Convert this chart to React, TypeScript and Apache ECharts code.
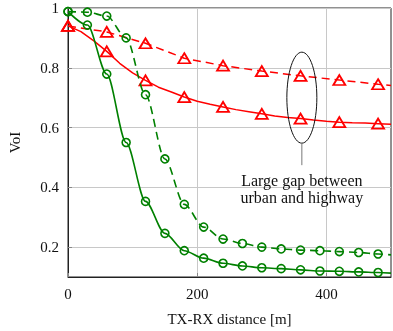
import React, { useEffect, useRef } from "react";
import * as echarts from "echarts";

// ---- data ----
const greenX = [0, 30, 60, 90, 120, 150, 180, 210, 240, 270, 300, 330, 360, 390, 420, 450, 480];
const greenSolid = [0.988, 0.943, 0.779, 0.55, 0.353, 0.246, 0.188, 0.163, 0.146, 0.137, 0.131, 0.128, 0.124, 0.12, 0.119, 0.117, 0.115];
const greenDashed = [0.988, 0.986, 0.973, 0.9, 0.71, 0.495, 0.343, 0.267, 0.227, 0.212, 0.2, 0.194, 0.19, 0.188, 0.185, 0.182, 0.177];
const greenEndX = 500;
const greenSolidEnd = 0.113;
const greenDashedEnd = 0.174;

const redSolidX = [0, 20, 40, 60, 80, 100, 120, 140, 160, 180, 200, 220, 240, 260, 280, 300, 320, 340, 360, 380, 400, 420, 440, 460, 480, 500];
const redSolid = [0.94, 0.921, 0.89, 0.855, 0.815, 0.783, 0.758, 0.735, 0.719, 0.702, 0.688, 0.678, 0.669, 0.66, 0.653, 0.646, 0.639, 0.634, 0.63, 0.625, 0.621, 0.618, 0.616, 0.615, 0.613, 0.611];
const redMarkerX = [0, 60, 120, 180, 240, 300, 360, 420, 480];

const redDashedX = [0, 60, 120, 180, 240, 300, 360, 420, 480, 500];
const redDashed = [0.94, 0.92, 0.882, 0.832, 0.807, 0.789, 0.773, 0.759, 0.745, 0.741];

const xTicks = [0, 200, 400];
const yTicks = [0.2, 0.4, 0.6, 0.8, 1];
const annotationLines = ["Large gap between", "urban and highway"];
const ellipseCenter = [362, 0.7];

const FONT = "Liberation Serif";
const GREEN = "#008000";
const RED = "#ff0000";

export default function App() {
  const ref = useRef<HTMLDivElement>(null);
  useEffect(() => {
    if (!ref.current) return;
    const chart = echarts.init(ref.current, null, { renderer: "svg" });

    const greenSolidData: any[] = greenX.map((x, i) => [x, greenSolid[i]]);
    greenSolidData.push({ value: [greenEndX, greenSolidEnd], symbol: "none" });
    const greenDashedData: any[] = greenX.map((x, i) => [x, greenDashed[i]]);
    greenDashedData.push({ value: [greenEndX, greenDashedEnd], symbol: "none" });
    const redSolidData = redSolidX.map((x, i) =>
      redMarkerX.indexOf(x) >= 0 ? [x, redSolid[i]] : { value: [x, redSolid[i]], symbol: "none" }
    );
    const redDashedData = redDashedX.map((x, i) =>
      redMarkerX.indexOf(x) >= 0 ? [x, redDashed[i]] : { value: [x, redDashed[i]], symbol: "none" }
    );

    const circleStyle = { color: "rgba(0,0,0,0)", borderColor: GREEN, borderWidth: 1.6 };
    const triStyle = { color: "rgba(0,0,0,0)", borderColor: RED, borderWidth: 1.8 };

    chart.setOption({
      animation: false,
      textStyle: { fontFamily: FONT },
      grid: {
        left: 68,
        right: 2,
        top: 8,
        bottom: 54,
        containLabel: false,
        outerBoundsMode: "none",
        show: true,
        borderColor: "#222",
        borderWidth: 1,
        backgroundColor: "transparent",
      },
      xAxis: {
        type: "value",
        min: 0,
        max: 500,
        name: "TX-RX distance [m]",
        nameLocation: "middle",
        nameGap: 34,
        nameTextStyle: { fontFamily: FONT, fontSize: 15, color: "#111" },
        axisLine: { show: true, onZero: false, lineStyle: { color: "#222", width: 1 } },
        axisTick: { show: true, inside: true, length: 4, customValues: xTicks, lineStyle: { color: "#888" } },
        axisLabel: { customValues: xTicks, fontFamily: FONT, fontSize: 15, color: "#111", margin: 9 },
        splitLine: { show: true, lineStyle: { color: "#c8c8c8", width: 1 } },
      },
      yAxis: {
        type: "value",
        min: 0.1,
        max: 1,
        name: "VoI",
        nameLocation: "middle",
        nameGap: 46,
        nameTextStyle: { fontFamily: FONT, fontSize: 15, color: "#111" },
        axisLine: { show: true, onZero: false, lineStyle: { color: "#222", width: 1 } },
        axisTick: { show: true, inside: true, length: 4, customValues: yTicks, lineStyle: { color: "#888" } },
        axisLabel: {
          customValues: yTicks,
          fontFamily: FONT,
          fontSize: 15,
          color: "#111",
          margin: 9,
          formatter: (v: number) => (v === 1 ? "1" : v.toFixed(1)),
        },
        splitLine: { show: true, lineStyle: { color: "#c8c8c8", width: 1 } },
      },
      series: [
        {
          type: "line",
          data: redDashedData,
          symbol: "triangle",
          symbolSize: [12, 10],
          itemStyle: triStyle,
          lineStyle: { color: RED, width: 1.5, type: [8, 5] },
          z: 2,
        },
        {
          type: "line",
          data: redSolidData,
          symbol: "triangle",
          symbolSize: [12, 10],
          itemStyle: triStyle,
          lineStyle: { color: RED, width: 1.5 },
          z: 2,
        },
        {
          type: "line",
          data: greenDashedData,
          symbol: "circle",
          symbolSize: 8,
          smooth: 0.3,
          smoothMonotone: "x",
          itemStyle: circleStyle,
          lineStyle: { color: GREEN, width: 1.6, type: [8, 5] },
          z: 3,
        },
        {
          type: "line",
          data: greenSolidData,
          symbol: "circle",
          symbolSize: 8,
          smooth: 0.3,
          smoothMonotone: "x",
          itemStyle: circleStyle,
          lineStyle: { color: GREEN, width: 1.6 },
          z: 3,
        },
      ],
    });

    const c = chart.convertToPixel({ gridIndex: 0 }, ellipseCenter) as number[];
    const rx = 15;
    const ry = 45.5;
    chart.setOption({
      graphic: [
        {
          type: "ellipse",
          shape: { cx: c[0], cy: c[1], rx, ry },
          style: { fill: "none", stroke: "#111", lineWidth: 1 },
          z: 10,
        },
        {
          type: "line",
          shape: { x1: c[0], y1: c[1] + ry, x2: c[0], y2: c[1] + ry + 22 },
          style: { stroke: "#777", lineWidth: 1 },
          z: 10,
        },
        {
          type: "text",
          x: c[0],
          y: c[1] + ry + 46,
          style: {
            text: annotationLines.join("\n"),
            font: `16px "${FONT}"`,
            fill: "#111",
            textAlign: "center",
            textVerticalAlign: "middle",
            lineHeight: 16.5,
          },
          z: 10,
        },
      ],
    });

    return () => chart.dispose();
  }, []);

  return (
    <div
      ref={ref}
      style={{ position: "fixed", left: 0, top: 0, width: 393, height: 331 }}
    />
  );
}
